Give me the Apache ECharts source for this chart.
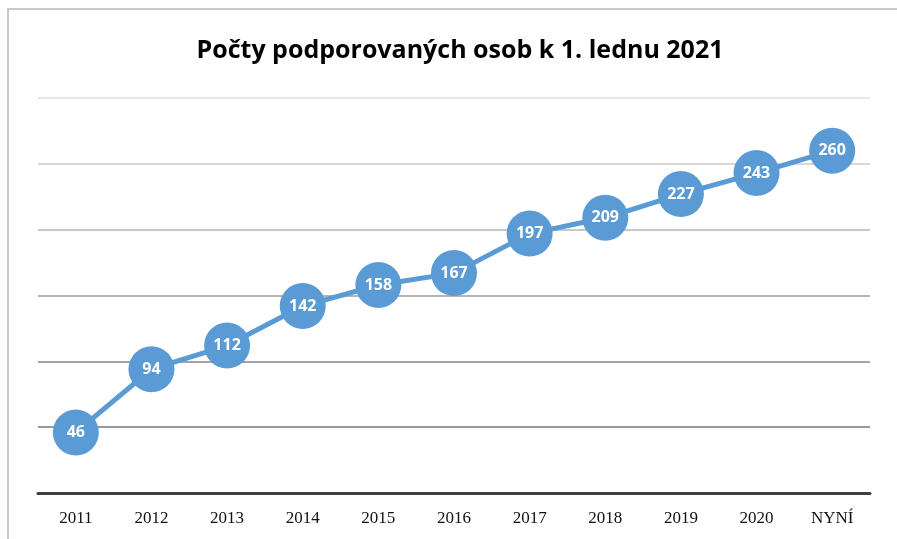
<!DOCTYPE html>
<html>
<head>
<meta charset="utf-8">
<script src="https://cdn.jsdelivr.net/npm/echarts@6/dist/echarts.min.js"></script>
<style>
html,body{margin:0;padding:0;background:#fff;}
#c{width:897px;height:539px;}
</style>
</head>
<body>
<div id="c"></div>
<script>
const categories = ['2011','2012','2013','2014','2015','2016','2017','2018','2019','2020','NYNÍ'];
const values = [46, 94, 112, 142, 158, 167, 197, 209, 227, 243, 260];
const titleText = 'Počty podporovaných osob k 1. lednu 2021';

const chart = echarts.init(document.getElementById('c'));
chart.setOption({
  animation: false,
  backgroundColor: '#fff',
  graphic: [{
    type: 'rect', z: -10, silent: true,
    shape: {x: 8, y: 9, width: 1000, height: 1000},
    style: {fill: 'none', stroke: '#c9c9c9', lineWidth: 2}
  }],
  title: {
    text: titleText, left: 455, textAlign: 'center', top: 33,
    textStyle: {fontFamily: 'Open Sans', fontWeight: 'bold', fontSize: 25, color: '#000'}
  },
  grid: {left: 38, right: 27, top: 98, bottom: 46},
  xAxis: {
    type: 'category', data: categories, boundaryGap: true,
    axisLine: {lineStyle: {color: '#404040', width: 3}},
    axisTick: {show: false},
    axisLabel: {fontFamily: 'Liberation Serif', fontSize: 17, color: '#111', margin: 17}
  },
  yAxis: {
    type: 'value', min: 0, max: 300, interval: 50,
    axisLine: {show: false}, axisTick: {show: false}, axisLabel: {show: false},
    splitLine: {lineStyle: {width: 2, color: ['#999','#999','#a4a4a4','#b4b4b4','#c8c8c8','#d8d8d8','#e6e6e6']}}
  },
  series: [{
    type: 'line', data: values,
    symbol: 'circle', symbolSize: 46,
    lineStyle: {color: '#5B9BD5', width: 5},
    itemStyle: {color: '#5B9BD5'},
    label: {show: true, position: 'inside', color: '#fff', fontFamily: 'Open Sans', fontWeight: 'bold', fontSize: 16}
  }]
});
</script>
</body>
</html>
